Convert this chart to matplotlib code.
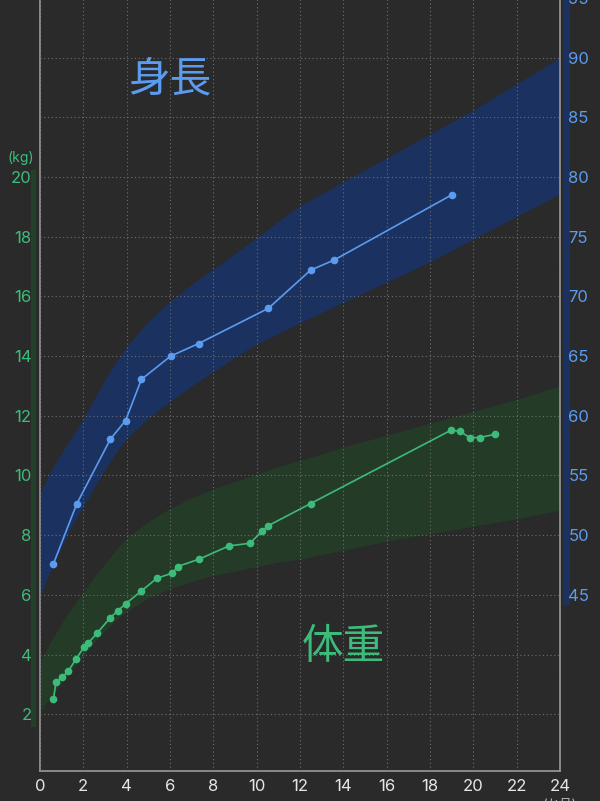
import matplotlib
matplotlib.use("Agg")
import matplotlib.pyplot as plt
from matplotlib.patches import Rectangle
import matplotlib.transforms as mtransforms

plt.rcParams['font.family'] = ['Inter', 'Noto Sans CJK JP', 'DejaVu Sans']

# measured height (cm) by age in months
h_month = [0.62, 1.69, 3.25, 3.95, 4.68, 6.03, 7.32, 10.54, 12.49, 13.58, 19.0]
h_cm = [47.6, 52.6, 58.05, 59.6, 63.05, 65.0, 66.05, 69.0, 72.2, 73.05, 78.5]

# measured weight (kg) by age in months
w_month = [0.62, 0.74, 1.03, 1.31, 1.66, 2.02, 2.23, 2.65, 3.25, 3.58, 3.95,
           4.66, 5.40, 6.11, 6.35, 7.32, 8.72, 9.69, 10.26, 10.54, 12.49,
           18.98, 19.38, 19.83, 20.29, 21.0]
w_kg = [2.50, 3.08, 3.25, 3.45, 3.85, 4.24, 4.39, 4.73, 5.24, 5.46, 5.70,
        6.12, 6.56, 6.73, 6.95, 7.19, 7.64, 7.73, 8.14, 8.32, 9.06,
        11.52, 11.48, 11.27, 11.27, 11.38]

# reference bands (percentile range)
band_month = [0, 0.5, 1, 1.5, 2, 2.5, 3, 3.5, 4, 5, 6, 7, 8, 9, 10, 11, 12,
              14, 16, 18, 20, 22, 24]
h_low = [44.85, 47.1, 49.0, 50.9, 52.4, 54.0, 55.5, 56.9, 58.1, 59.8, 61.2,
         62.5, 63.7, 64.9, 66.0, 66.9, 67.8, 69.5, 71.2, 72.9, 74.8, 76.7, 78.6]
h_high = [53.5, 55.4, 56.9, 58.3, 59.7, 61.4, 63.0, 64.5, 65.8, 67.9, 69.6,
          71.0, 72.3, 73.6, 74.9, 76.3, 77.6, 79.6, 81.6, 83.6, 85.6, 87.8, 90.0]
w_low = [2.1, 2.6, 3.05, 3.5, 3.95, 4.4, 4.8, 5.15, 5.45, 5.9, 6.2, 6.45,
         6.65, 6.8, 6.95, 7.1, 7.2, 7.5, 7.8, 8.05, 8.3, 8.55, 8.84]
w_high = [3.75, 4.45, 5.05, 5.6, 6.1, 6.6, 7.05, 7.5, 7.9, 8.45, 8.9, 9.25,
          9.55, 9.8, 10.05, 10.3, 10.5, 10.95, 11.35, 11.75, 12.15, 12.55, 13.0]

x_ticks = list(range(0, 25, 2))
kg_ticks = [2, 4, 6, 8, 10, 12, 14, 16, 18, 20]
cm_ticks = [45, 50, 55, 60, 65, 70, 75, 80, 85, 90, 95]

BG = '#2a2a2a'
BLUE = '#5b9cf0'
GREEN = '#3dbb7a'
BLUE_BAND = '#1b3160'
GREEN_BAND = '#243b28'
GRID = '#6e6e6e'


def cm_to_kg(v):
    return (v - 30) / 2.5


def kg_to_cm(v):
    return v * 2.5 + 30


fig = plt.figure(figsize=(6, 8.01), dpi=100, facecolor=BG)
ax = fig.add_axes([40 / 600, 30 / 801, 520 / 600, 773.1 / 801])
ax.set_facecolor(BG)
ax.set_xlim(0, 24)
ax.set_ylim(0.1, 26)

# bands
ax.fill_between(band_month, [cm_to_kg(v) for v in h_low], [cm_to_kg(v) for v in h_high],
                color=BLUE_BAND, lw=0, zorder=1)
ax.fill_between(band_month, w_low, w_high, color=GREEN_BAND, lw=0, zorder=1)

# grid
ax.set_xticks(x_ticks)
ax.set_yticks(kg_ticks)
ax.set_yticks([22, 24], minor=True)
ax.grid(True, which='both', color=GRID, linestyle=(0, (1, 2.4)), linewidth=0.8, zorder=2)
ax.set_axisbelow(False)

# data lines
ax.plot(h_month, [cm_to_kg(v) for v in h_cm], color=BLUE, lw=1.2, marker='o',
        ms=4.5, zorder=5)
ax.plot(w_month, w_kg, color=GREEN, lw=1.2, marker='o', ms=4.5, zorder=5)

# axes styling
for side in ['left', 'bottom', 'right']:
    ax.spines[side].set_color('#9a9a9a')
    ax.spines[side].set_linewidth(1.2)
ax.spines['top'].set_visible(False)
ax.tick_params(axis='both', which='both', length=0)
ax.tick_params(axis='x', colors='#e6e6e6', labelsize=12, pad=6)
ax.tick_params(axis='y', colors=GREEN, labelsize=12, pad=6)
ax.set_yticklabels([str(t) for t in kg_ticks])
ax.set_xticklabels([str(t) for t in x_ticks])

ax2 = ax.twinx()
ax2.set_ylim(kg_to_cm(0.1), kg_to_cm(26))
ax2.set_yticks(cm_ticks)
ax2.set_yticklabels([str(t) for t in cm_ticks])
ax2.tick_params(axis='y', length=0, colors=BLUE, labelsize=12, pad=6)
for s in ax2.spines.values():
    s.set_visible(False)

# side strips behind the tick labels
trans = mtransforms.blended_transform_factory(ax.transAxes, ax.transData)
ax.add_patch(Rectangle((-0.0175, 1.57), 0.0095, 18.66, transform=trans,
                       color='#23402b', lw=0, clip_on=False, zorder=0))
ax.add_patch(Rectangle((1.005, 5.66), 0.014, 21.0, transform=trans,
                       color='#1b3160', lw=0, clip_on=False, zorder=0))

# unit labels
ax.text(-0.036, 20.65, '(kg)', transform=trans, color=GREEN, fontsize=10,
        ha='center', va='center')
ax.text(24, -1.05, '(か月)', color='#bbbbbb', fontsize=9, ha='center', va='center',
        clip_on=False)

# titles
ax.text(6.0, 23.25, '身長', color=BLUE, fontsize=30, ha='center', va='center', zorder=6)
ax.text(14.0, 4.22, '体重', color=GREEN, fontsize=30, ha='center', va='center', zorder=6)

fig.savefig('out.png', dpi=100, facecolor=BG)
